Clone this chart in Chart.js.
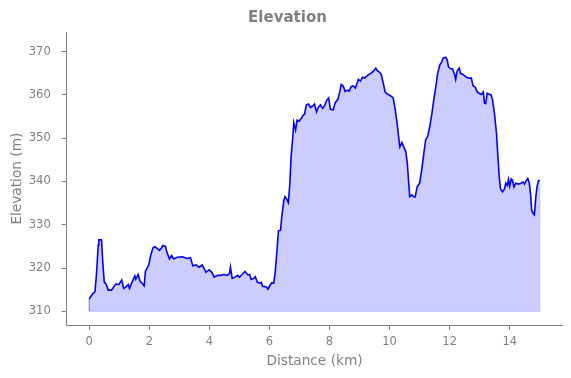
<!DOCTYPE html>
<html>
<head>
<meta charset="utf-8">
<style>
  html, body { margin: 0; padding: 0; background: #ffffff; }
  canvas { display: block; }
</style>
<script src="https://cdn.jsdelivr.net/npm/chart.js@4/dist/chart.umd.min.js"></script>
</head>
<body>
<canvas id="c" width="571" height="378"></canvas>
<script>
const chartTitle = 'Elevation';
const xAxisLabel = 'Distance (km)';
const yAxisLabel = 'Elevation (m)';
const baseElevation = 310;

const distanceKm = [
  0.00, 0.04, 0.12, 0.19, 0.24, 0.30, 0.32, 0.41, 0.45, 0.50, 0.57, 0.63, 0.74, 0.88, 0.99,
  1.08, 1.15, 1.23, 1.30, 1.34, 1.43, 1.52, 1.55, 1.63, 1.69, 1.76, 1.83, 1.87, 1.98,
  2.05, 2.12, 2.18, 2.25, 2.34, 2.41, 2.45, 2.54, 2.58, 2.67, 2.74, 2.81, 2.93,
  3.10, 3.26, 3.37, 3.45, 3.56, 3.65, 3.76, 3.83, 3.89, 3.99,
  4.08, 4.16, 4.27, 4.37, 4.48, 4.59, 4.67, 4.70, 4.76, 4.85, 4.94,
  5.00, 5.09, 5.19, 5.28, 5.34, 5.39, 5.46, 5.53, 5.59, 5.66, 5.73, 5.77, 5.84, 5.90, 5.95,
  6.01, 6.08, 6.14, 6.19, 6.26, 6.30, 6.37, 6.41, 6.48, 6.52, 6.59, 6.63, 6.68, 6.72, 6.77, 6.81, 6.87, 6.92, 6.99,
  7.06, 7.12, 7.17, 7.23, 7.30, 7.37, 7.43, 7.50, 7.57, 7.63, 7.70, 7.77, 7.83, 7.90, 7.97,
  8.03, 8.12, 8.19, 8.28, 8.34, 8.39, 8.46, 8.52, 8.59, 8.66, 8.72, 8.79, 8.86, 8.92, 8.96,
  9.03, 9.10, 9.17, 9.23, 9.30, 9.37, 9.43, 9.50, 9.54, 9.59, 9.66, 9.72, 9.79, 9.85, 9.92, 9.99,
  10.05, 10.12, 10.19, 10.25, 10.30, 10.34, 10.41, 10.47, 10.54, 10.59, 10.63, 10.67, 10.74, 10.79, 10.85, 10.92,
  11.00, 11.07, 11.14, 11.20, 11.27, 11.34, 11.41, 11.47, 11.54, 11.60, 11.67, 11.74, 11.78, 11.87, 11.92, 11.96,
  12.03, 12.10, 12.16, 12.20, 12.25, 12.32, 12.36, 12.43, 12.50, 12.56, 12.65, 12.72, 12.78, 12.85, 12.92, 12.98,
  13.05, 13.12, 13.16, 13.20, 13.25, 13.30, 13.38, 13.43, 13.49, 13.56, 13.60, 13.65, 13.69, 13.76, 13.82, 13.87, 13.92, 13.96,
  14.00, 14.05, 14.09, 14.14, 14.20, 14.29, 14.38, 14.45, 14.49, 14.56, 14.60, 14.65, 14.69, 14.73, 14.78, 14.82, 14.87, 14.91, 14.96,
  15.00
];

const elevationM = [
  312.8, 313.3, 314.1, 314.5, 318.4, 325.3, 326.5, 326.5, 321.5, 316.8, 316.2, 314.9, 314.9, 316.3, 316.2,
  317.2, 315.3, 315.7, 316.2, 315.3, 316.8, 318.2, 317.4, 318.5, 317.0, 316.5, 315.9, 319.2, 320.7,
  323.0, 324.6, 324.9, 324.6, 324.1, 324.7, 325.2, 325.0, 323.8, 322.1, 322.9, 322.1, 322.5,
  322.6, 322.2, 322.4, 320.5, 320.7, 320.2, 320.7, 319.8, 319.0, 319.6,
  319.0, 317.9, 318.3, 318.3, 318.5, 318.3, 318.7, 320.2, 317.6, 317.9, 318.3,
  317.9, 318.5, 319.2, 318.4, 318.5, 317.4, 317.5, 318.0, 316.8, 316.5, 316.7, 315.8, 315.7, 315.6, 315.1,
  315.9, 316.6, 316.5, 318.8, 324.9, 328.6, 328.7, 331.9, 335.7, 336.5, 335.7, 335.1, 339.6, 345.7, 349.6, 353.6, 351.9, 354.2, 354.0,
  354.6, 355.3, 355.6, 357.7, 357.9, 357.1, 357.4, 357.9, 356.1, 357.2, 357.7, 356.9, 357.4, 358.7, 359.3,
  356.7, 356.5, 358.2, 359.0, 360.7, 362.4, 362.0, 360.8, 361.1, 360.9, 361.9, 362.1, 361.6, 362.7, 363.6,
  363.2, 364.1, 363.9, 364.3, 364.7, 365.0, 365.3, 365.8, 366.2, 365.6, 365.3, 364.8, 362.7, 360.7, 360.2, 360.0,
  359.7, 359.3, 356.5, 353.5, 350.4, 348.0, 349.0, 348.0, 346.9, 344.2, 340.3, 336.5, 336.9, 336.5, 336.4, 338.8,
  339.6, 342.7, 346.5, 349.6, 350.5, 352.7, 355.8, 358.8, 361.9, 365.0, 366.9, 367.7, 368.5, 368.7, 368.1, 366.5,
  366.1, 366.0, 364.8, 363.6, 365.6, 366.2, 365.0, 364.8, 364.4, 364.1, 363.9, 363.9, 362.1, 361.8, 360.7, 360.4,
  360.1, 360.7, 358.1, 358.0, 360.4, 360.2, 360.0, 358.8, 355.8, 351.1, 346.5, 341.1, 338.4, 337.6, 338.2, 339.6, 339.1, 340.5,
  338.9, 340.6, 340.3, 338.7, 339.6, 339.4, 339.6, 339.9, 339.4, 340.3, 340.7, 339.7, 337.3, 333.4, 332.6, 332.3, 336.5, 338.8, 340.2,
  340.3
];

const xTicks = [0, 2, 4, 6, 8, 10, 12, 14];
const yTicks = [310, 320, 330, 340, 350, 360, 370];

const grey = '#808080';
const fontFamily = '"DejaVu Sans", "Liberation Sans", sans-serif';

const profilePoints = distanceKm.map((d, i) => ({ x: d, y: elevationM[i] }));
const firstX = distanceKm[0];
const lastX = distanceKm[distanceKm.length - 1];
const edgePoints = [
  { x: firstX, y: elevationM[0] },
  { x: firstX, y: baseElevation },
  { x: lastX, y: baseElevation },
  { x: lastX, y: elevationM[elevationM.length - 1] }
];

const titlePlugin = {
  id: 'mplTitle',
  afterDraw(chart) {
    const ctx = chart.ctx;
    ctx.save();
    ctx.font = 'bold 15px ' + fontFamily;
    ctx.fillStyle = grey;
    ctx.textAlign = 'center';
    ctx.textBaseline = 'middle';
    ctx.fillText(chartTitle, 287.5, 18);
    ctx.restore();
  }
};

new Chart(document.getElementById('c'), {
  type: 'line',
  data: {
    datasets: [
      {
        label: 'Elevation',
        data: profilePoints,
        borderColor: '#0000ff',
        borderWidth: 1.6,
        pointRadius: 0,
        tension: 0,
        fill: { value: baseElevation },
        backgroundColor: 'rgba(0, 0, 255, 0.2)'
      },
      {
        label: 'edge',
        data: edgePoints,
        borderColor: 'rgba(0, 0, 255, 0.2)',
        borderWidth: 1,
        pointRadius: 0,
        tension: 0,
        fill: false
      }
    ]
  },
  options: {
    responsive: false,
    animation: false,
    devicePixelRatio: 1,
    layout: { padding: { top: 32.3, right: 8.7, left: 0, bottom: 0 } },
    plugins: {
      legend: { display: false },
      tooltip: { enabled: false },
      title: { display: false }
    },
    scales: {
      x: {
        type: 'linear',
        min: -0.75,
        max: 15.75,
        afterBuildTicks(axis) { axis.ticks = xTicks.map(v => ({ value: v })); },
        afterFit(scale) { scale.height = 53; },
        grid: { display: true, drawOnChartArea: false, drawTicks: true, tickLength: 5, tickColor: grey, tickWidth: 1 },
        border: { display: true, color: grey, width: 1 },
        ticks: {
          color: grey,
          font: { family: fontFamily, size: 11.5 },
          padding: 5,
          maxRotation: 0,
          autoSkip: false,
          callback: v => String(v)
        },
        title: {
          display: true,
          text: xAxisLabel,
          color: grey,
          font: { family: fontFamily, size: 13.7 },
          padding: { top: 0, bottom: 8.8 }
        }
      },
      y: {
        type: 'linear',
        min: 306.83,
        max: 374.48,
        afterBuildTicks(axis) { axis.ticks = yTicks.map(v => ({ value: v })); },
        afterFit(scale) { scale.width = 66.7; },
        grid: { display: true, drawOnChartArea: false, drawTicks: true, tickLength: 5, tickColor: grey, tickWidth: 1 },
        border: { display: true, color: grey, width: 1 },
        ticks: {
          color: grey,
          font: { family: fontFamily, size: 11.5 },
          padding: 11,
          autoSkip: false,
          callback: v => String(v)
        },
        title: {
          display: true,
          text: yAxisLabel,
          color: grey,
          font: { family: fontFamily, size: 13.7 },
          padding: { top: 8.9, bottom: 0 }
        }
      }
    }
  },
  plugins: [titlePlugin]
});
</script>
</body>
</html>
